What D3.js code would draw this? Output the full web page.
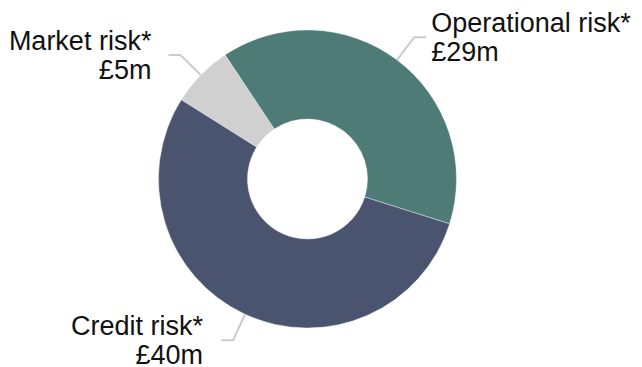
<!DOCTYPE html>
<html>
<head>
<meta charset="utf-8">
<script src="https://cdn.jsdelivr.net/npm/d3@7"></script>
<style>
  html, body { margin: 0; padding: 0; background: #fff; }
  svg { display: block; }
  text { font-family: "Liberation Sans", Arial, sans-serif; font-size: 27px; fill: #111; }
</style>
</head>
<body>
<svg id="chart" width="642" height="367"></svg>
<script>
// Capital requirement by risk type (£m)
const categories = ["Market risk*", "Operational risk*", "Credit risk*"];
const values = [5, 29, 40];
const valueLabels = ["£5m", "£29m", "£40m"];
const colors = ["#d0d0d0", "#4f7b77", "#4a546e"];

const width = 642, height = 367;
const cx = 307.5, cy = 179;
const outerR = 149, innerR = 60;
const elbowR = 177.5, tail = 12;

const svg = d3.select("#chart");
const g = svg.append("g").attr("transform", `translate(${cx},${cy})`);

const startDeg = -57.9;
const pie = d3.pie()
  .sort(null)
  .startAngle(startDeg * Math.PI / 180)
  .endAngle((startDeg + 360) * Math.PI / 180);

const arcs = pie(values).map((d, i) => ({ ...d, i }));

const arc = d3.arc().innerRadius(innerR).outerRadius(outerR);

g.selectAll("path.slice")
  .data(arcs)
  .join("path")
  .attr("class", "slice")
  .attr("d", arc)
  .attr("fill", d => colors[d.i])
  .attr("stroke", "#ffffff")
  .attr("stroke-width", 0.4);

// Leader lines: radial segment from the rim, then a short horizontal tail
function pointAt(angle, r) {
  return [r * Math.sin(angle), -r * Math.cos(angle)];
}

const labelGap = { 0: 17, 1: 5, 2: 18 };
const lineGap = 29;

arcs.forEach(d => {
  const mid = (d.startAngle + d.endAngle) / 2;
  const p0 = pointAt(mid, outerR);
  const p1 = pointAt(mid, elbowR);
  const right = Math.sin(mid) > 0;
  const p2 = [p1[0] + (right ? tail : -tail), p1[1]];

  g.append("polyline")
    .attr("points", [p0, p1, p2].map(p => p.join(",")).join(" "))
    .attr("fill", "none")
    .attr("stroke", "#cccccc")
    .attr("stroke-width", 2);

  const tx = p2[0] + (right ? labelGap[d.i] : -labelGap[d.i]);
  const t = g.append("text")
    .attr("text-anchor", right ? "start" : "end")
    .attr("x", tx)
    .attr("y", p2[1] - 5);
  t.append("tspan").attr("x", tx).text(categories[d.i]);
  t.append("tspan").attr("x", tx).attr("dy", lineGap).text(valueLabels[d.i]);
});
</script>
</body>
</html>
